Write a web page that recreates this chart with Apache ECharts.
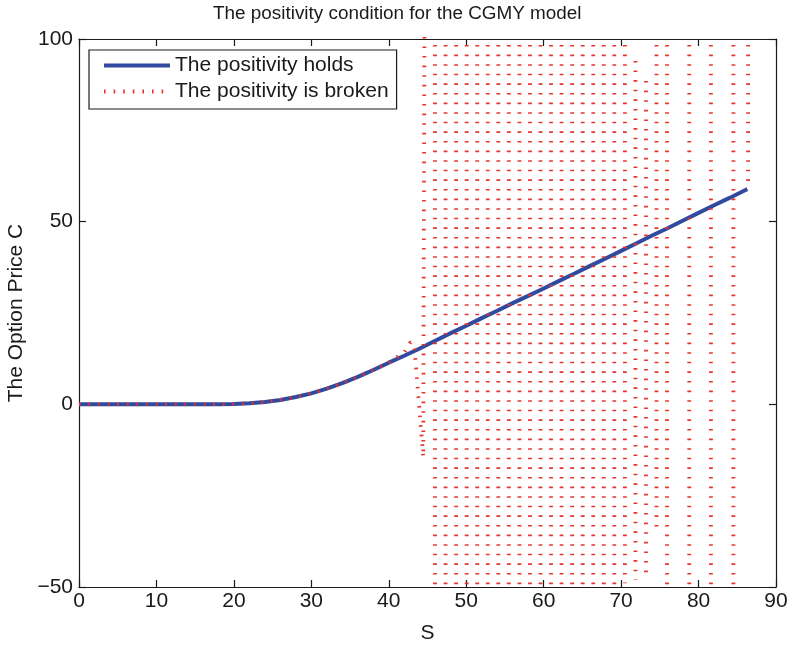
<!DOCTYPE html>
<html>
<head>
<meta charset="utf-8">
<script src="https://cdn.jsdelivr.net/npm/echarts@6/dist/echarts.min.js"></script>
<style>html,body{margin:0;padding:0;background:#fff}#c{width:787px;height:648px}</style>
</head>
<body>
<div id="c"></div>
<script>
// ---- data ----
const titleText = 'The positivity condition for the CGMY model';
const xName = 'S';
const yName = 'The Option Price C';
const seriesNames = ['The positivity holds', 'The positivity is broken'];
const xTicks = [0, 10, 20, 30, 40, 50, 60, 70, 80, 90];
const yTicks = [-50, 0, 50, 100];

// option price where the positivity condition holds
const holdS = [0,2,4,6,8,10,12,14,16,18,20,22,24,26,28,30,32,34,36,38,40,42,44,46,48,50,52,54,56,58,60,62,64,66,68,70,72,74,76,78,80,82,84,86,86.3];
const holdC = [0,0,0,0,0,0,0,0,0.01,0.04,0.12,0.3,0.65,1.2,2.0,3.0,4.3,5.8,7.5,9.4,11.4,13.3,15.3,17.4,19.5,21.5,23.6,25.6,27.7,29.7,31.7,33.8,35.8,37.9,39.9,42.0,44.1,46.2,48.2,50.3,52.4,54.5,56.5,58.6,58.9];

// broken scheme: smooth part (follows the price), then the blow-up
const brokenS = [0,2,4,6,8,10,12,14,16,18,20,22,24,26,28,30,32,34,36,38,40,42,42.8,43.3,44.45,44.6];
const brokenC = [0,0,0,0,0,0,0,0,0.01,0.04,0.12,0.3,0.65,1.2,2.0,3.0,4.3,5.8,7.5,9.4,11.4,14.2,17.0,16.0,-14.5,101];
// oscillating columns of the broken scheme (S, upper value, lower value)
const oscS     = [45.97,47.33,48.69,50.06,51.42,52.78,54.14,55.50,56.87,58.23,59.59,60.95,62.31,63.68,65.04,66.40,67.76,69.12,70.49,71.85,73.21,74.57,75.93,78.8,81.6,84.5,86.4];
const oscUpper = [101,101,101,101,101,101,101,101,101,101,101,101,101,101,101,101,101,101,101,94,88.5,101,101,101,101,101,101];
const oscLower = [-51,-51,-51,-51,-51,-51,-51,-51,-51,-51,-51,-51,-51,-51,-51,-51,-51,-51,-49,-48,-48,-35.5,-51,-51,-51,-51,59];

// ---- build ----
const FONT = "'Liberation Sans', Arial, Helvetica, sans-serif";
const TXT = '#1a1a1a';
const BLUE = '#2f4a9e';
const RED = '#e8332b';

const holdData = holdS.map((s, i) => [s, holdC[i]]);
const brokenData = brokenS.map((s, i) => [s, brokenC[i]]);
brokenData.push([44.6, '-']);
oscS.forEach((s, i) => {
  brokenData.push([s, oscUpper[i]]);
  brokenData.push([s, oscLower[i]]);
  brokenData.push([s, '-']);
});

const axisLineStyle = { color: TXT, width: 1.2 };
const baseX = {
  type: 'value', min: 0, max: 90, interval: 10,
  axisLine: { show: true, onZero: false, lineStyle: axisLineStyle },
  axisTick: { show: true, inside: true, length: 7, lineStyle: axisLineStyle },
  splitLine: { show: false }
};
const baseY = {
  type: 'value', min: -50, max: 100, interval: 50,
  axisLine: { show: true, onZero: false, lineStyle: axisLineStyle },
  axisTick: { show: true, inside: true, length: 7, lineStyle: axisLineStyle },
  splitLine: { show: false }
};

const chart = echarts.init(document.getElementById('c'), null, { renderer: 'canvas' });
chart.setOption({
  animation: false,
  backgroundColor: '#fff',
  title: {
    text: titleText, left: 213, top: 4, padding: 0,
    textStyle: { fontFamily: FONT, fontSize: 18.9, fontWeight: 'normal', color: TXT }
  },
  grid: { left: 79, right: 11, top: 39, bottom: 61, containLabel: false, outerBoundsMode: 'none' },
  legend: {
    show: true,
    orient: 'vertical', left: 89, top: 50,
    padding: [5, 8, 7, 13],
    itemWidth: 66, itemHeight: 14, itemGap: 5,
    borderColor: TXT, borderWidth: 1.2, backgroundColor: '#fff',
    itemStyle: { opacity: 0 },
    lineStyle: { width: 4 },
    textStyle: { fontFamily: FONT, fontSize: 21, color: TXT },
    data: seriesNames
  },
  xAxis: [
    Object.assign({}, baseX, {
      position: 'bottom', name: xName, nameLocation: 'middle', nameGap: 36,
      nameTextStyle: { fontFamily: FONT, fontSize: 21, color: TXT },
      axisLabel: { show: true, margin: 4, fontFamily: FONT, fontSize: 21, color: TXT,
        formatter: v => xTicks.includes(v) ? String(v) : '' }
    }),
    Object.assign({}, baseX, { position: 'top', axisLabel: { show: false } })
  ],
  yAxis: [
    Object.assign({}, baseY, {
      position: 'left', name: yName, nameLocation: 'middle', nameGap: 52, nameRotate: 90,
      nameTextStyle: { fontFamily: FONT, fontSize: 21, color: TXT },
      axisLabel: { show: true, margin: 6, fontFamily: FONT, fontSize: 21, color: TXT,
        formatter: v => yTicks.includes(v) ? String(v).replace('-', '\u2212') : '' }
    }),
    Object.assign({}, baseY, { position: 'right', axisLabel: { show: false } })
  ],
  series: [
    {
      name: seriesNames[0], type: 'line', xAxisIndex: 0, yAxisIndex: 0,
      data: holdData, showSymbol: false, symbol: 'none', smooth: false,
      lineStyle: { color: BLUE, width: 4 }, itemStyle: { color: BLUE }, z: 2, clip: true
    },
    {
      name: seriesNames[1], type: 'line', xAxisIndex: 0, yAxisIndex: 0,
      data: brokenData, showSymbol: false, symbol: 'none', connectNulls: false,
      lineStyle: { color: RED, width: 3.8, type: [1.6, 8.0], cap: 'butt' },
      itemStyle: { color: RED }, z: 3, clip: true
    }
  ]
});
</script>
</body>
</html>
